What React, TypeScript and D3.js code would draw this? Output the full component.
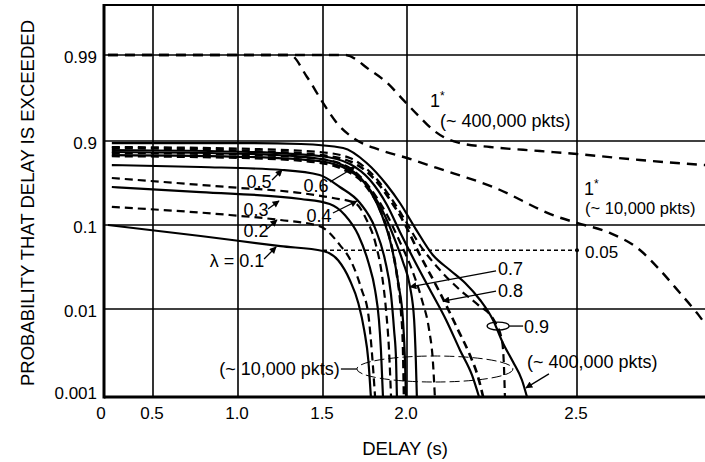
import React from 'react';
import * as d3 from 'd3';

const W = 705;
const H = 462;

// Axis ticks
const delayTicks = [0, 0.5, 1.0, 1.5, 2.0, 2.5];
const delayTickLabels = ['0', '0.5', '1.0', '1.5', '2.0', '2.5'];
const delayGrid = [0.5, 1.0, 1.5, 2.0, 2.5];
const probTicks = [0.001, 0.01, 0.1, 0.9, 0.99];
const probTickLabels = ['0.001', '0.01', '0.1', '0.9', '0.99'];
const probGrid = [0.01, 0.1, 0.9, 0.99];

// [delay (s), probability that delay is exceeded]
type Pt = [number, number];

const oneStar10k: Pt[] = [
  [0.04, 0.99], [0.776, 0.99], [1.306, 0.99], [1.406, 0.982], [1.5, 0.964], [1.583, 0.938],
  [1.679, 0.908], [1.839, 0.849], [2.0, 0.787], [2.088, 0.687], [2.253, 0.448], [2.441, 0.147],
  [2.5, 0.11], [2.597, 0.0804], [2.685, 0.0504], [2.744, 0.0291], [2.803, 0.0155],
  [2.853, 0.009], [2.876, 0.0069], [2.906, 0.0051],
];
const oneStar400k: Pt[] = [
  [0.04, 0.99], [0.9, 0.99], [1.631, 0.99], [1.78, 0.985], [1.881, 0.979], [1.976, 0.967],
  [2.038, 0.947], [2.076, 0.926], [2.112, 0.908], [2.156, 0.89], [2.244, 0.868], [2.391, 0.842],
  [2.5, 0.82], [2.685, 0.769], [2.876, 0.719], [2.92, 0.709],
];
const lambda01: Pt[] = [
  [0.04, 0.1], [0.78, 0.074], [1.25, 0.056], [1.5, 0.049], [1.59, 0.038], [1.66, 0.022],
  [1.71, 0.0118], [1.745, 0.0058], [1.77, 0.0026], [1.785, 0.001],
];
const lambda02: Pt[] = [
  [0.08, 0.222], [0.95, 0.158], [1.25, 0.126], [1.48, 0.097], [1.6, 0.058], [1.67, 0.036],
  [1.73, 0.017], [1.77, 0.0086], [1.79, 0.0034], [1.81, 0.001],
];
const lambda03: Pt[] = [
  [0.08, 0.448], [0.78, 0.384], [1.37, 0.302], [1.54, 0.25], [1.63, 0.158], [1.71, 0.076],
  [1.77, 0.036], [1.81, 0.0168], [1.833, 0.0075], [1.845, 0.0034], [1.857, 0.001],
];
const lambda04: Pt[] = [
  [0.08, 0.565], [0.935, 0.448], [1.37, 0.372], [1.56, 0.313], [1.69, 0.26], [1.76, 0.126],
  [1.815, 0.058], [1.851, 0.0254], [1.875, 0.0098], [1.893, 0.0034], [1.905, 0.001],
];
const lambda05: Pt[] = [
  [0.08, 0.719], [0.78, 0.698], [1.26, 0.664], [1.48, 0.603], [1.6, 0.448], [1.72, 0.26],
  [1.81, 0.092], [1.869, 0.0383], [1.905, 0.0147], [1.923, 0.0058], [1.935, 0.0026], [1.94, 0.001],
];
const lambda06a: Pt[] = [
  [0.08, 0.804], [1.07, 0.787], [1.45, 0.75], [1.63, 0.664], [1.75, 0.474], [1.84, 0.196],
  [1.9, 0.0663], [1.94, 0.0254], [1.964, 0.0098], [1.976, 0.0039], [1.982, 0.001],
];
const lambda06b: Pt[] = [
  [0.08, 0.812], [1.07, 0.796], [1.47, 0.76], [1.65, 0.664], [1.77, 0.435], [1.85, 0.158],
  [1.91, 0.0532], [1.95, 0.0193], [1.976, 0.0075], [1.988, 0.0026], [1.994, 0.001],
];
const lambda07a: Pt[] = [
  [0.08, 0.835], [1.07, 0.82], [1.45, 0.787], [1.63, 0.709], [1.75, 0.5], [1.84, 0.23],
  [1.917, 0.076], [1.976, 0.0363], [2.009, 0.0183], [2.021, 0.0075], [2.026, 0.0026], [2.029, 0.001],
];
const lambda07b: Pt[] = [
  [0.08, 0.828], [1.07, 0.812], [1.48, 0.779], [1.66, 0.687], [1.78, 0.435], [1.875, 0.172],
  [1.958, 0.0628], [2.015, 0.0291], [2.044, 0.0128], [2.065, 0.0058], [2.076, 0.0026], [2.082, 0.001],
];
const lambda08a: Pt[] = [
  [0.08, 0.849], [1.07, 0.835], [1.48, 0.804], [1.66, 0.73], [1.78, 0.539], [1.881, 0.24],
  [1.958, 0.0826], [2.024, 0.0363], [2.068, 0.0168], [2.115, 0.0075], [2.156, 0.0034],
  [2.191, 0.00178], [2.212, 0.001],
];
const lambda08b: Pt[] = [
  [0.08, 0.862], [1.07, 0.842], [1.48, 0.812], [1.67, 0.75], [1.8, 0.565], [1.9, 0.291],
  [1.99, 0.1], [2.038, 0.0439], [2.082, 0.0204], [2.112, 0.0118], [2.15, 0.0058], [2.185, 0.003],
  [2.209, 0.00169], [2.224, 0.001],
];
const lambda09a: Pt[] = [
  [0.08, 0.868], [1.07, 0.856], [1.48, 0.835], [1.66, 0.787], [1.78, 0.64], [1.88, 0.384],
  [1.97, 0.158], [2.038, 0.0578], [2.097, 0.0291], [2.156, 0.0168], [2.209, 0.0112],
  [2.259, 0.0071], [2.279, 0.00444], [2.285, 0.00231], [2.288, 0.001],
];
const lambda09b: Pt[] = [
  [0.08, 0.89], [1.01, 0.89], [1.37, 0.885], [1.62, 0.862], [1.76, 0.74], [1.88, 0.474],
  [1.958, 0.26], [2.024, 0.092], [2.076, 0.0439], [2.126, 0.0291], [2.171, 0.0204],
  [2.215, 0.0128], [2.253, 0.0075], [2.282, 0.00411], [2.312, 0.0025], [2.338, 0.00156], [2.353, 0.001],
];
// reference level at the λ = 0.1 knee
const refLevel = 0.05;
const refDelays = [1.5, 2.5];

// ---- scales ----
const x = d3.scaleLinear().domain(delayTicks).range([104, 153, 238, 323, 407, 577]);

// probability paper: log decades below 0.1, log(1-p) decades above 0.9, logit in between
function probIndex(p: number): number {
  if (p <= 0.1) return Math.log10(p) + 3;
  if (p >= 0.9) return 2 - Math.log10(1 - p);
  const lo = Math.log10(0.1 / 0.9);
  const l = Math.log10(p / (1 - p));
  return 2 + (l - lo) / (-2 * lo);
}
const yIdx = d3.scaleLinear().domain([0, 1, 2, 3, 4]).range([397, 309, 225, 141, 55]);
const y = (p: number) => yIdx(probIndex(p));

const plotLeft = 104;
const plotRight = W;
const plotTop = 5;
const plotBottom = y(0.001);

const line = d3
  .line<Pt>()
  .x((d) => x(d[0]))
  .y((d) => y(d[1]))
  .curve(d3.curveMonotoneX);

type Series = { data: Pt[]; dash?: string; width: number };
const seriesList: Series[] = [
  { data: oneStar10k, dash: '10,7', width: 2.4 },
  { data: oneStar400k, dash: '10,7', width: 2.4 },
  { data: lambda01, width: 2.2 },
  { data: lambda02, dash: '8,5', width: 2.2 },
  { data: lambda03, width: 2.2 },
  { data: lambda04, dash: '8,5', width: 2.2 },
  { data: lambda05, width: 2.2 },
  { data: lambda06a, dash: '8,5', width: 2.6 },
  { data: lambda06b, width: 2.2 },
  { data: lambda07a, width: 2.2 },
  { data: lambda07b, dash: '8,5', width: 2.2 },
  { data: lambda08a, width: 2.2 },
  { data: lambda08b, dash: '8,5', width: 2.6 },
  { data: lambda09a, dash: '8,5', width: 2.2 },
  { data: lambda09b, width: 2.2 },
];

// curve labels with arrows pointing at a curve point
type Note = { text: string; tip: Pt; lx: number; ly: number; fx: number; fy: number; anchor?: string };
const notes: Note[] = [
  { text: '0.5', tip: [1.259, 0.664], lx: -23, ly: 12, fx: -10, fy: 10 },
  { text: '0.3', tip: [1.241, 0.281], lx: -23, ly: 9, fx: -11, fy: 8 },
  { text: '0.2', tip: [1.229, 0.126], lx: -21, ly: 11, fx: -10, fy: 9 },
  { text: 'λ = 0.1', tip: [1.224, 0.0547], lx: -39, ly: 14, fx: -12, fy: 12 },
  { text: '0.6', tip: [1.69, 0.698], lx: -39, ly: 19, fx: -25, fy: 15 },
  { text: '0.4', tip: [1.702, 0.281], lx: -38, ly: 15, fx: -24, fy: 12 },
  { text: '0.7', tip: [2.009, 0.0183], lx: 88, ly: -18, fx: 86, fy: -16, anchor: 'start' },
  { text: '0.8', tip: [2.106, 0.0124], lx: 55, ly: -10, fx: 53, fy: -10, anchor: 'start' },
];

const FONT = '"Liberation Sans", Arial, Helvetica, sans-serif';

export default function App() {
  const ninePt: Pt = [2.268, 0.0064];
  const bigEll: Pt = [2.082, 0.00208];
  const lowTip: Pt = [2.344, 0.00127];
  const tickStyle = { fontFamily: FONT, fontSize: 17, fill: '#000' } as const;
  const textStyle = { fontFamily: FONT, fontSize: 18, fill: '#000' } as const;
  const titleStyle = { fontFamily: FONT, fontSize: 18.5, fill: '#000' } as const;

  return (
    <svg
      width={W}
      height={H}
      style={{ position: 'absolute', left: 0, top: 0, background: '#fff' }}
    >
      <defs>
        <clipPath id="plot-clip">
          <rect x={plotLeft} y={plotTop} width={plotRight - plotLeft} height={plotBottom - plotTop} />
        </clipPath>
        <marker
          id="arrowhead"
          viewBox="0 0 10 10"
          refX={9}
          refY={5}
          markerWidth={8}
          markerHeight={7}
          markerUnits="userSpaceOnUse"
          orient="auto"
        >
          <path d="M0,0 L10,5 L0,10 z" fill="#000" />
        </marker>
      </defs>
      <rect x={0} y={0} width={W} height={H} fill="#fff" />

      {/* grid */}
      {delayGrid.map((d) => (
        <line key={'gx' + d} x1={x(d)} x2={x(d)} y1={plotTop} y2={plotBottom} stroke="#000" strokeWidth={1.6} />
      ))}
      {probGrid.map((p) => (
        <line key={'gy' + p} x1={plotLeft} x2={plotRight} y1={y(p)} y2={y(p)} stroke="#000" strokeWidth={1.6} />
      ))}

      {/* frame */}
      <line x1={plotLeft} x2={plotRight} y1={plotTop} y2={plotTop} stroke="#000" strokeWidth={2.2} />
      <line x1={plotLeft} x2={plotLeft} y1={plotTop - 1} y2={plotBottom + 1.5} stroke="#000" strokeWidth={3} />
      <line x1={plotLeft} x2={plotRight} y1={plotBottom} y2={plotBottom} stroke="#000" strokeWidth={3} />

      {/* curves */}
      <g clipPath="url(#plot-clip)">
        {seriesList.map((s, i) => (
          <path
            key={i}
            d={line(s.data) || ''}
            fill="none"
            stroke="#000"
            strokeWidth={s.width}
            strokeDasharray={s.dash}
            strokeLinecap="butt"
          />
        ))}
        <line
          x1={x(refDelays[0])}
          x2={x(refDelays[1])}
          y1={y(refLevel)}
          y2={y(refLevel)}
          stroke="#000"
          strokeWidth={1.4}
          strokeDasharray="4,3"
        />
        <circle cx={x(refDelays[1])} cy={y(refLevel)} r={2} fill="#000" />
      </g>

      {/* y tick labels */}
      {probTicks.map((p, i) => (
        <text
          key={'yl' + p}
          x={97}
          y={y(p) + (p === 0.001 ? -4 : 2)}
          textAnchor="end"
          dominantBaseline="central"
          style={tickStyle}
        >
          {probTickLabels[i]}
        </text>
      ))}
      {/* x tick labels */}
      {delayTicks.map((d, i) => (
        <text
          key={'xl' + d}
          x={x(d) - (d === 0 ? 3 : 1)}
          y={plotBottom + 16}
          textAnchor="middle"
          dominantBaseline="central"
          style={tickStyle}
        >
          {delayTickLabels[i]}
        </text>
      ))}

      {/* axis titles */}
      <text x={405} y={448} textAnchor="middle" dominantBaseline="central" style={titleStyle}>
        DELAY (s)
      </text>
      <text
        transform={`translate(27,203) rotate(-90)`}
        textAnchor="middle"
        dominantBaseline="central"
        style={titleStyle}
      >
        PROBABILITY THAT DELAY IS EXCEEDED
      </text>

      {/* λ labels */}
      {notes.map((n) => {
        const tx = x(n.tip[0]);
        const ty = y(n.tip[1]);
        return (
          <g key={n.text}>
            <line
              x1={tx + n.fx}
              y1={ty + n.fy}
              x2={tx}
              y2={ty}
              stroke="#000"
              strokeWidth={1.3}
              markerEnd="url(#arrowhead)"
            />
            <text
              x={tx + n.lx}
              y={ty + n.ly}
              textAnchor={n.anchor || 'middle'}
              dominantBaseline="central"
              style={textStyle}
            >
              {n.text}
            </text>
          </g>
        );
      })}

      {/* λ = 0.9 pair */}
      <ellipse cx={x(ninePt[0])} cy={y(ninePt[1])} rx={11} ry={4} fill="none" stroke="#000" strokeWidth={1.3} />
      <line x1={x(ninePt[0]) + 11} x2={x(ninePt[0]) + 25} y1={y(ninePt[1])} y2={y(ninePt[1])} stroke="#000" strokeWidth={1.3} />
      <text x={x(ninePt[0]) + 26} y={y(ninePt[1]) + 1} dominantBaseline="central" style={textStyle}>
        0.9
      </text>

      {/* packet count groups */}
      <ellipse
        cx={x(bigEll[0])}
        cy={y(bigEll[1])}
        rx={78}
        ry={13}
        fill="none"
        stroke="#000"
        strokeWidth={1}
        strokeDasharray="10,4"
      />
      <line
        x1={x(bigEll[0]) - 94}
        x2={x(bigEll[0]) - 78}
        y1={y(bigEll[1])}
        y2={y(bigEll[1])}
        stroke="#000"
        strokeWidth={1.3}
      />
      <text x={x(bigEll[0]) - 95} y={y(bigEll[1])} textAnchor="end" dominantBaseline="central" style={textStyle}>
        (~ 10,000 pkts)
      </text>
      <line
        x1={x(lowTip[0]) + 25}
        y1={y(lowTip[1]) - 14}
        x2={x(lowTip[0]) + 2}
        y2={y(lowTip[1])}
        stroke="#000"
        strokeWidth={1.3}
        markerEnd="url(#arrowhead)"
      />
      <text x={527} y={362} dominantBaseline="central" style={textStyle}>
        (~ 400,000 pkts)
      </text>

      {/* 1* labels */}
      <text x={430} y={101} dominantBaseline="central" style={textStyle}>
        1<tspan fontSize={12} dy={-5}>*</tspan>
      </text>
      <text x={440} y={121} dominantBaseline="central" style={textStyle}>
        (~ 400,000 pkts)
      </text>
      <text x={584} y={189} dominantBaseline="central" style={textStyle}>
        1<tspan fontSize={12} dy={-5}>*</tspan>
      </text>
      <text x={585} y={208} dominantBaseline="central" style={{ ...textStyle, fontSize: 16.5 }}>
        (~ 10,000 pkts)
      </text>

      {/* reference level label */}
      <text x={585} y={y(refLevel) + 2} dominantBaseline="central" style={tickStyle}>
        0.05
      </text>
    </svg>
  );
}
